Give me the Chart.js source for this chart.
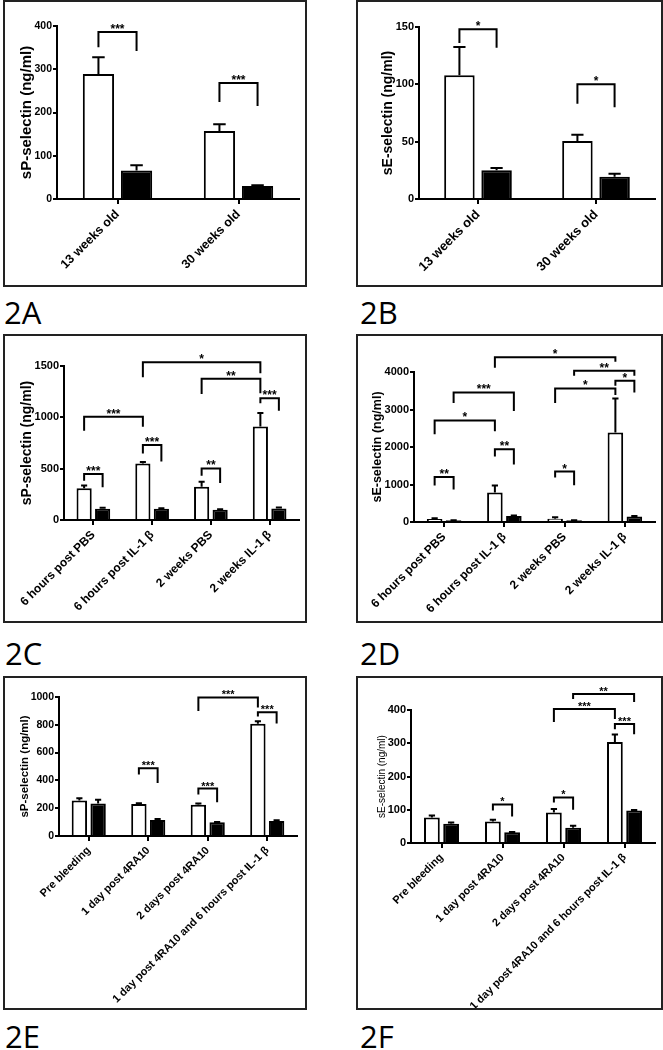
<!DOCTYPE html>
<html>
<head>
<meta charset="utf-8">
<script src="https://cdn.jsdelivr.net/npm/chart.js@4.4.1/dist/chart.umd.min.js"></script>
<style>
  body { margin: 0; background: #fff; width: 663px; height: 1050px; position: relative; overflow: hidden; }
  .panel { position: absolute; }
  .panel canvas { position: absolute; left: 0; top: 0; }
  .frame { position: absolute; left: 0; top: 0; right: 0; bottom: 0; border: 2px solid #222; box-sizing: border-box; pointer-events: none; }
  .tag { position: absolute; font-family: 'Open Sans', sans-serif; font-size: 31px; line-height: 31px; color: #000; }
</style>
</head>
<body>
<div class="panel" style="left:3px;top:0px;width:304px;height:287px"><canvas id="chartA" width="304" height="287"></canvas><div class="frame"></div></div>
<div class="panel" style="left:356px;top:0px;width:307px;height:287px"><canvas id="chartB" width="307" height="287"></canvas><div class="frame"></div></div>
<div class="panel" style="left:3px;top:334px;width:304px;height:289px"><canvas id="chartC" width="304" height="289"></canvas><div class="frame"></div></div>
<div class="panel" style="left:356px;top:334px;width:307px;height:289px"><canvas id="chartD" width="307" height="289"></canvas><div class="frame"></div></div>
<div class="panel" style="left:3px;top:676px;width:304px;height:334px"><canvas id="chartE" width="304" height="334"></canvas><div class="frame"></div></div>
<div class="panel" style="left:356px;top:676px;width:307px;height:334px"><canvas id="chartF" width="307" height="334"></canvas><div class="frame"></div></div>

<div class="tag" style="left:4px;top:297px">2A</div>
<div class="tag" style="left:360px;top:297px">2B</div>
<div class="tag" style="left:5px;top:638px">2C</div>
<div class="tag" style="left:360px;top:638px">2D</div>
<div class="tag" style="left:5px;top:1021px">2E</div>
<div class="tag" style="left:360px;top:1021px">2F</div>

<script>
const FONT = "'Liberation Sans', Arial, sans-serif";

// 2A
const labelsA = ['13 weeks old', '30 weeks old'];
const whiteA = [289, 157];
const whiteErrA = [39, 16];
const blackA = [66, 30];
const blackErrA = [12, 2];
const ticksA = [0, 100, 200, 300, 400];
// [group1, series1, group2, series2, bracket top, left leg end, right leg end, label]
const sigA = [
    [0, 0, 0, 1, 386, 351, 342, '***'],
    [1, 0, 1, 1, 268, 224, 215, '***']
];

// 2B
const labelsB = ['13 weeks old', '30 weeks old'];
const whiteB = [108, 50.5];
const whiteErrB = [24.5, 5.5];
const blackB = [25, 19.5];
const blackErrB = [2, 2.5];
const ticksB = [0, 50, 100, 150];
const sigB = [
    [0, 0, 0, 1, 148, 136, 132, '*'],
    [1, 0, 1, 1, 100, 83, 80, '*']
];

// 2C
const labelsC = ['6 hours post PBS', '6 hours post IL-1 β', '2 weeks PBS', '2 weeks IL-1 β'];
const whiteC = [310, 551, 324, 911];
const whiteErrC = [25, 15, 49, 131];
const blackC = [110, 110, 100, 113];
const blackErrC = [9, 5, 4, 9];
const ticksC = [0, 500, 1000, 1500];
const sigC = [
    [0, 0, 0, 1, 448, 383, 318, '***'],
    [1, 0, 1, 1, 730, 648, 570, '***'],
    [2, 0, 2, 1, 502, 431, 360, '**'],
    [0, 0, 1, 0, 1006, 870, 909, '***'],
    [1, 0, 3, 0, 1536, 1390, 1429, '*'],
    [2, 0, 3, 0, 1377, 1227, 1234, '**'],
    [3, 0, 3, 1, 1185, 1136, 1065, '***']
];

// 2D
const labelsD = ['6 hours post PBS', '6 hours post IL-1 β', '2 weeks PBS', '2 weeks IL-1 β'];
const whiteD = [80, 790, 90, 2388];
const whiteErrD = [20, 185, 35, 908];
const blackD = [45, 160, 45, 145];
const blackErrD = [5, 15, 5, 15];
const ticksD = [0, 1000, 2000, 3000, 4000];
const sigD = [
    [0, 0, 0, 1, 1203, 971, 864, '**'],
    [0, 0, 1, 0, 2708, 2343, 2423, '*'],
    [0, 1, 1, 1, 3456, 3171, 2957, '***'],
    [1, 0, 1, 1, 1942, 1746, 1532, '**'],
    [2, 0, 2, 1, 1345, 1185, 980, '*'],
    [2, 0, 3, 0, 3563, 3171, 3385, '*'],
    [3, 0, 3, 1, 3768, 3635, 3456, '*'],
    [2, 1, 3, 1, 4036, 3902, 3902, '**'],
    [1, 0, 3, 0, 4392, 4116, 4276, '*']
];

// 2E
const labelsE = ['Pre bleeding', '1 day post 4RA10', '2 days post 4RA10', '1 day post 4RA10 and 6 hours post IL-1 β'];
const whiteE = [255, 231, 224, 808];
const whiteErrE = [17, 5, 9, 17];
const blackE = [233, 115, 99, 108];
const blackErrE = [27, 8, 2, 5];
const ticksE = [0, 200, 400, 600, 800, 1000];
const sigE = [
    [1, 0, 1, 1, 488, 442, 382, '***'],
    [2, 0, 2, 1, 341, 298, 243, '***'],
    [3, 0, 3, 1, 890, 860, 810, '***'],
    [2, 0, 3, 0, 997, 900, 925, '***']
];

// 2F
const labelsF = ['Pre bleeding', '1 day post 4RA10', '2 days post 4RA10', '1 day post 4RA10 and 6 hours post IL-1 β'];
const whiteF = [77, 65, 92, 304];
const whiteErrF = [6, 5, 10, 22];
const blackF = [58, 32, 46, 98];
const blackErrF = [4, 1, 6, 1];
const ticksF = [0, 100, 200, 300, 400];
const sigF = [
    [1, 0, 1, 1, 116, 98, 80, '*'],
    [2, 0, 2, 1, 137, 122, 100, '*'],
    [3, 0, 3, 1, 358, 342, 327, '***'],
    [2, 0, 3, 0, 403, 364, 373, '***'],
    [2, 1, 3, 1, 448, 433, 424, '**']
];

const measure = document.createElement('canvas').getContext('2d');

function makePanel(id, p) {
    const ctx = document.getElementById(id).getContext('2d');
    const errs = [p.whiteErr, p.blackErr];

    // put the y title right next to the widest tick label
    measure.font = 'bold ' + p.ySize + 'px ' + FONT;
    const labelW = Math.max(...p.ticks.map(t => measure.measureText(String(t)).width));
    const labelLeft = p.box[0] - 4 - 1 - labelW;
    const titlePad = labelLeft - 1 - 0.45 * p.titleSize - 0.6 * p.titleSize;

    // error bars (upper half only) and significance brackets
    const marks = {
        id: 'marks',
        afterDatasetsDraw(chart) {
            const c = chart.ctx;
            const y = chart.scales.y;
            c.save();
            c.strokeStyle = '#000';
            c.lineWidth = 2;
            chart.data.datasets.forEach((ds, d) => {
                chart.getDatasetMeta(d).data.forEach((bar, i) => {
                    const top = y.getPixelForValue(ds.data[i] + errs[d][i]);
                    const half = bar.width * 0.2;
                    c.beginPath();
                    c.moveTo(bar.x, bar.y);
                    c.lineTo(bar.x, top);
                    c.moveTo(bar.x - half, top);
                    c.lineTo(bar.x + half, top);
                    c.stroke();
                });
            });
            c.fillStyle = '#000';
            c.font = 'bold ' + p.starSize + 'px ' + FONT;
            c.textAlign = 'center';
            c.textBaseline = 'alphabetic';
            p.sig.forEach(s => {
                const x1 = chart.getDatasetMeta(s[1]).data[s[0]].x;
                const x2 = chart.getDatasetMeta(s[3]).data[s[2]].x;
                const yt = y.getPixelForValue(s[4]);
                c.beginPath();
                c.moveTo(x1, y.getPixelForValue(s[5]));
                c.lineTo(x1, yt);
                c.lineTo(x2, yt);
                c.lineTo(x2, y.getPixelForValue(s[6]));
                c.stroke();
                c.fillText(s[7], (x1 + x2) / 2, yt + 1);
            });
            c.restore();
        }
    };

    return new Chart(ctx, {
        type: 'bar',
        data: {
            labels: p.labels,
            datasets: [
                { data: p.white, backgroundColor: '#fff', borderColor: '#000', borderWidth: 2 },
                { data: p.black, backgroundColor: '#000', borderColor: '#000', borderWidth: 2 }
            ]
        },
        options: {
            responsive: false,
            animation: false,
            devicePixelRatio: 1,
            categoryPercentage: 0.63,
            barPercentage: 0.82,
            layout: { padding: { left: 0, right: p.box[1], top: p.box[2], bottom: 0 } },
            plugins: { legend: { display: false }, tooltip: { enabled: false } },
            scales: {
                x: {
                    grid: { offset: false, drawOnChartArea: false, drawTicks: true, tickLength: 5, color: '#000', lineWidth: 2 },
                    border: { display: true, color: '#000', width: 2 },
                    ticks: {
                        autoSkip: false, minRotation: 45, maxRotation: 45, padding: 3, color: '#000',
                        font: { family: FONT, size: p.xSize, weight: 'bold' }
                    },
                    afterFit(scale) { scale.height = p.box[3]; }
                },
                y: {
                    min: 0,
                    max: p.ticks[p.ticks.length - 1],
                    ticks: {
                        stepSize: p.ticks[1] - p.ticks[0], padding: 1, color: '#000',
                        font: { family: FONT, size: p.ySize, weight: 'bold' },
                        callback: v => String(v)
                    },
                    grid: { drawOnChartArea: false, tickLength: 4, color: '#000', lineWidth: 2 },
                    border: { display: true, color: '#000', width: 2 },
                    title: {
                        display: true, text: p.title, color: '#000',
                        font: { family: FONT, size: p.titleSize, weight: p.titleWeight },
                        padding: { top: titlePad, bottom: 0 }
                    },
                    afterFit(scale) { scale.width = p.box[0]; }
                }
            }
        },
        plugins: [marks]
    });
}

// box: [chart area left, right padding, top padding, x axis height]
makePanel('chartA', { labels: labelsA, white: whiteA, whiteErr: whiteErrA, black: blackA, blackErr: blackErrA, ticks: ticksA, sig: sigA,
    title: 'sP-selectin (ng/ml)', box: [54, 8, 26, 88], xSize: 12.5, ySize: 10.5, titleSize: 15, titleWeight: 'bold', starSize: 12 });
makePanel('chartB', { labels: labelsB, white: whiteB, whiteErr: whiteErrB, black: blackB, blackErr: blackErrB, ticks: ticksB, sig: sigB,
    title: 'sE-selectin (ng/ml)', box: [63, 8, 27, 88], xSize: 13, ySize: 11, titleSize: 14, titleWeight: 'bold', starSize: 12 });
makePanel('chartC', { labels: labelsC, white: whiteC, whiteErr: whiteErrC, black: blackC, blackErr: blackErrC, ticks: ticksC, sig: sigC,
    title: 'sP-selectin (ng/ml)', box: [61, 8, 32, 103], xSize: 12, ySize: 11, titleSize: 14, titleWeight: 'bold', starSize: 12 });
makePanel('chartD', { labels: labelsD, white: whiteD, whiteErr: whiteErrD, black: blackD, blackErr: blackErrD, ticks: ticksD, sig: sigD,
    title: 'sE-selectin (ng/ml)', box: [58, 8, 38, 101], xSize: 12, ySize: 11, titleSize: 12.5, titleWeight: 'bold', starSize: 12 });
makePanel('chartE', { labels: labelsE, white: whiteE, whiteErr: whiteErrE, black: blackE, blackErr: blackErrE, ticks: ticksE, sig: sigE,
    title: 'sP-selectin (ng/ml)', box: [56, 10, 21, 174], xSize: 11, ySize: 10.5, titleSize: 11.5, titleWeight: 'bold', starSize: 11 });
makePanel('chartF', { labels: labelsF, white: whiteF, whiteErr: whiteErrF, black: blackF, blackErr: blackErrF, ticks: ticksF, sig: sigF,
    title: 'sE-selectin (ng/ml)', box: [55, 8, 34, 167], xSize: 11, ySize: 11, titleSize: 10, titleWeight: 'normal', starSize: 11 });
</script>
</body>
</html>
